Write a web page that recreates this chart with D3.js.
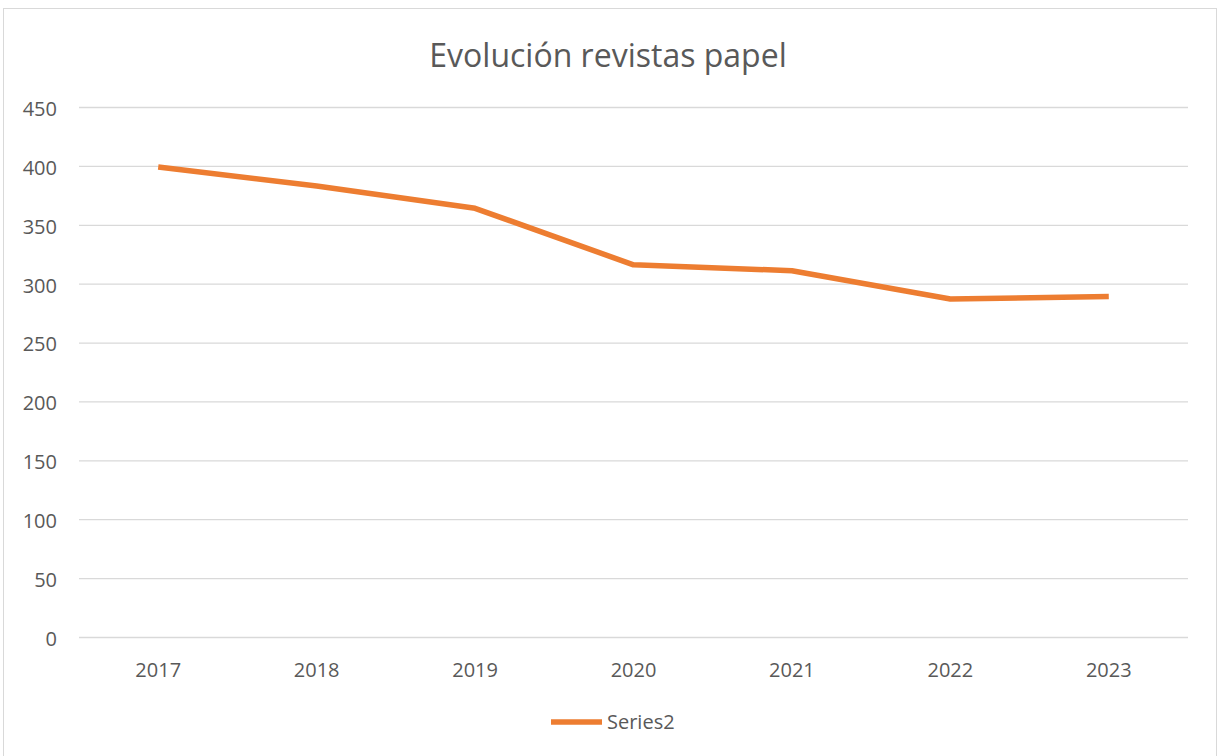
<!DOCTYPE html>
<html lang="es">
  <head>
    <meta charset="utf-8">
    <title>Evolución revistas papel</title>
    <script src="https://d3js.org/d3.v7.min.js"></script>
    <style>
      body { margin: 0; background: #fff; }
      text { font-family: "Open Sans", sans-serif; fill: #595959; }
    </style>
  </head>
  <body>
    <div id="chart"></div>
    <script>
      var years = ["2017", "2018", "2019", "2020", "2021", "2022", "2023"];
      var series2 = [399, 383, 364, 316, 311, 287, 289];
      var yTicks = [0, 50, 100, 150, 200, 250, 300, 350, 400, 450];

      var width = 1223, height = 756;
      var plot = {left: 79, right: 1188, top: 107, bottom: 637};

      var svg = d3.select("#chart").append("svg")
        .attr("width", width)
        .attr("height", height);

      // chart frame
      svg.append("rect")
        .attr("x", 3.5).attr("y", 8.5)
        .attr("width", 1213).attr("height", 760)
        .attr("fill", "#fff")
        .attr("stroke", "#d9d9d9");

      var x = d3.scaleBand().domain(years).range([plot.left, plot.right]);
      var y = d3.scaleLinear().domain([0, 450]).range([plot.bottom, plot.top]);

      // gridlines + y labels
      var yAxis = svg.append("g")
        .attr("transform", "translate(" + plot.left + ",0)")
        .call(d3.axisLeft(y).tickValues(yTicks).tickSize(-(plot.right - plot.left)).tickPadding(22));
      yAxis.select(".domain").remove();
      yAxis.selectAll("line").attr("stroke", "#d9d9d9").attr("stroke-width", 1.3);
      yAxis.selectAll("text").attr("font-size", 20).attr("fill", "#595959")
        .attr("dy", "0.42em")
        .style("font-family", "'Open Sans', sans-serif");

      // x labels
      var xAxis = svg.append("g")
        .attr("transform", "translate(0," + plot.bottom + ")")
        .call(d3.axisBottom(x).tickSize(0).tickPadding(26));
      xAxis.select(".domain").remove();
      xAxis.selectAll("text").attr("font-size", 20).attr("fill", "#595959")
        .style("font-family", "'Open Sans', sans-serif");

      // line
      var line = d3.line()
        .x(function(d, i) { return x(years[i]) + x.bandwidth() / 2; })
        .y(function(d) { return y(d); });
      svg.append("path")
        .datum(series2)
        .attr("d", line)
        .attr("fill", "none")
        .attr("stroke", "#ed7d31")
        .attr("stroke-width", 5.5)
        .attr("stroke-linejoin", "round");

      // title
      svg.append("text")
        .attr("x", 608).attr("y", 67)
        .attr("text-anchor", "middle")
        .attr("font-size", 32)
        .text("Evolución revistas papel");

      // legend
      var legend = svg.append("g").attr("transform", "translate(551,722)");
      legend.append("line")
        .attr("x1", 0).attr("x2", 51)
        .attr("stroke", "#ed7d31").attr("stroke-width", 5.5);
      legend.append("text")
        .attr("x", 56).attr("y", 7)
        .attr("font-size", 20)
        .text("Series2");
    </script>
  </body>
</html>
